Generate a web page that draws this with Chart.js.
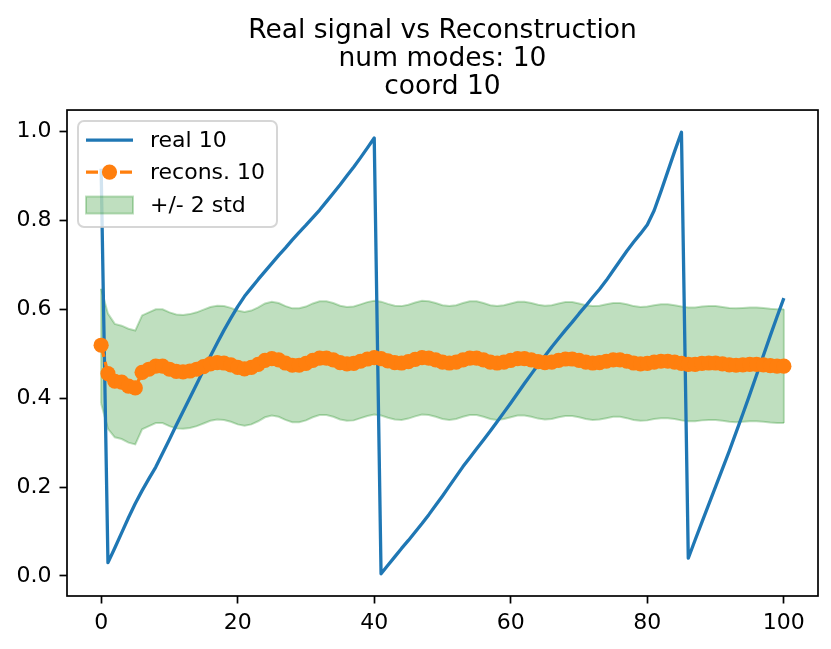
<!DOCTYPE html>
<html>
<head>
<meta charset="utf-8">
<title>Real signal vs Reconstruction</title>
<script src="https://cdn.jsdelivr.net/npm/chart.js@4.4.1/dist/chart.umd.min.js"></script>
<style>
  html, body { margin: 0; padding: 0; background: #fff; }
  #wrap { width: 831px; height: 649px; position: relative; }
</style>
</head>
<body>
<div id="wrap"><canvas id="chart"></canvas></div>
<script>
// values, one per time step 0..100
const real = [
  0.916, 0.030, 0.063, 0.097, 0.131, 0.163, 0.192, 0.219, 0.245, 0.276,
  0.307, 0.339, 0.370, 0.401, 0.432, 0.463, 0.494, 0.524, 0.553, 0.580,
  0.606, 0.629, 0.648, 0.667, 0.685, 0.703, 0.721, 0.738, 0.756, 0.773,
  0.789, 0.806, 0.823, 0.842, 0.861, 0.880, 0.900, 0.920, 0.941, 0.963,
  0.985, 0.005, 0.024, 0.043, 0.062, 0.080, 0.099, 0.118, 0.138, 0.159,
  0.180, 0.202, 0.224, 0.246, 0.266, 0.286, 0.306, 0.326, 0.347, 0.368,
  0.389, 0.411, 0.433, 0.454, 0.475, 0.495, 0.515, 0.534, 0.553, 0.571,
  0.590, 0.608, 0.627, 0.645, 0.665, 0.687, 0.709, 0.731, 0.751, 0.770,
  0.790, 0.822, 0.865, 0.910, 0.955, 0.998, 0.040, 0.081, 0.121, 0.161,
  0.201, 0.241, 0.281, 0.323, 0.365, 0.408, 0.452, 0.496, 0.540, 0.583,
  0.625
];

const recons = [
  0.519, 0.455, 0.438, 0.436, 0.427, 0.423, 0.458, 0.465, 0.472, 0.472,
  0.465, 0.460, 0.459, 0.461, 0.465, 0.471, 0.477, 0.480, 0.479, 0.475,
  0.469, 0.466, 0.469, 0.476, 0.485, 0.489, 0.486, 0.479, 0.474, 0.474,
  0.478, 0.485, 0.490, 0.490, 0.486, 0.480, 0.477, 0.478, 0.483, 0.488,
  0.491, 0.489, 0.484, 0.480, 0.479, 0.482, 0.487, 0.491, 0.490, 0.486,
  0.481, 0.479, 0.481, 0.486, 0.490, 0.490, 0.486, 0.481, 0.479, 0.481,
  0.485, 0.489, 0.489, 0.486, 0.482, 0.480, 0.481, 0.485, 0.488, 0.488,
  0.485, 0.481, 0.479, 0.480, 0.483, 0.486, 0.486, 0.483, 0.479, 0.477,
  0.478, 0.481, 0.483, 0.483, 0.481, 0.478, 0.476, 0.476, 0.478, 0.479,
  0.479, 0.477, 0.475, 0.474, 0.475, 0.476, 0.476, 0.475, 0.473, 0.472,
  0.472
];

const upper = [
  0.646, 0.590, 0.567, 0.563, 0.556, 0.552, 0.586, 0.593, 0.600, 0.600,
  0.593, 0.588, 0.587, 0.589, 0.593, 0.599, 0.605, 0.608, 0.607, 0.603,
  0.597, 0.594, 0.597, 0.604, 0.613, 0.617, 0.614, 0.607, 0.602, 0.602,
  0.606, 0.613, 0.618, 0.618, 0.614, 0.608, 0.605, 0.606, 0.611, 0.616,
  0.619, 0.617, 0.612, 0.608, 0.607, 0.610, 0.615, 0.619, 0.618, 0.614,
  0.609, 0.607, 0.609, 0.614, 0.618, 0.618, 0.614, 0.609, 0.607, 0.609,
  0.613, 0.617, 0.617, 0.614, 0.610, 0.608, 0.609, 0.613, 0.616, 0.616,
  0.613, 0.609, 0.607, 0.608, 0.611, 0.614, 0.614, 0.611, 0.607, 0.605,
  0.606, 0.609, 0.611, 0.611, 0.609, 0.606, 0.604, 0.604, 0.606, 0.607,
  0.607, 0.605, 0.603, 0.602, 0.603, 0.604, 0.604, 0.603, 0.601, 0.600,
  0.600
];

const lower = [
  0.388, 0.331, 0.312, 0.308, 0.300, 0.296, 0.330, 0.337, 0.344, 0.344,
  0.337, 0.332, 0.331, 0.333, 0.337, 0.343, 0.349, 0.352, 0.351, 0.347,
  0.341, 0.338, 0.341, 0.348, 0.357, 0.361, 0.358, 0.351, 0.346, 0.346,
  0.350, 0.357, 0.362, 0.362, 0.358, 0.352, 0.349, 0.350, 0.355, 0.360,
  0.363, 0.361, 0.356, 0.352, 0.351, 0.354, 0.359, 0.363, 0.362, 0.358,
  0.353, 0.351, 0.353, 0.358, 0.362, 0.362, 0.358, 0.353, 0.351, 0.353,
  0.357, 0.361, 0.361, 0.358, 0.354, 0.352, 0.353, 0.357, 0.360, 0.360,
  0.357, 0.353, 0.351, 0.352, 0.355, 0.358, 0.358, 0.355, 0.351, 0.349,
  0.350, 0.353, 0.355, 0.355, 0.353, 0.350, 0.348, 0.348, 0.350, 0.351,
  0.351, 0.349, 0.347, 0.346, 0.347, 0.348, 0.348, 0.347, 0.345, 0.344,
  0.344
];

const titleLines = ['Real signal vs Reconstruction', 'num modes: 10', 'coord 10'];
const seriesNames = ['real 10', 'recons. 10', '+/- 2 std'];
const xTicks = [0, 20, 40, 60, 80, 100];
const xTickLabels = ['0', '20', '40', '60', '80', '100'];
const yTicks = [0, 0.2, 0.4, 0.6, 0.8, 1.0];
const yTickLabels = ['0.0', '0.2', '0.4', '0.6', '0.8', '1.0'];

// time step index for each sample
const steps = real.map((_, i) => i);

const FONT = '"DejaVu Sans", "Liberation Sans", sans-serif';
const BLUE = '#1f77b4';
const ORANGE = '#ff7f0e';
const GREEN_A = 'rgba(0, 128, 0, 0.25)';

// frame on all four sides + matplotlib style legend in the upper left
const frameAndLegend = {
  id: 'frameAndLegend',
  afterDatasetsDraw(chart) {
    const { ctx, chartArea: a } = chart;
    ctx.save();
    ctx.strokeStyle = '#000';
    ctx.lineWidth = 1.7;
    ctx.strokeRect(a.left, a.top, a.right - a.left, a.bottom - a.top);

    const x0 = a.left + 11, y0 = a.top + 11, w = 199, h = 106;
    ctx.beginPath();
    ctx.roundRect(x0, y0, w, h, 6);
    ctx.fillStyle = 'rgba(255,255,255,0.8)';
    ctx.fill();
    ctx.strokeStyle = 'rgba(204,204,204,0.8)';
    ctx.lineWidth = 2;
    ctx.stroke();

    const hx1 = x0 + 8, hx2 = x0 + 55, tx = x0 + 72;
    const rows = [y0 + 19, y0 + 51, y0 + 84];

    // real
    ctx.beginPath();
    ctx.moveTo(hx1, rows[0]); ctx.lineTo(hx2, rows[0]);
    ctx.strokeStyle = BLUE; ctx.lineWidth = 3.3; ctx.lineCap = 'butt';
    ctx.stroke();

    // recons
    ctx.beginPath();
    ctx.setLineDash([12, 5]);
    ctx.moveTo(hx1, rows[1]); ctx.lineTo(hx2, rows[1]);
    ctx.strokeStyle = ORANGE;
    ctx.stroke();
    ctx.setLineDash([]);
    ctx.beginPath();
    ctx.arc((hx1 + hx2) / 2, rows[1], 7.6, 0, Math.PI * 2);
    ctx.fillStyle = ORANGE;
    ctx.fill();

    // band
    ctx.fillStyle = GREEN_A;
    ctx.fillRect(hx1, rows[2] - 8.5, hx2 - hx1, 17);
    ctx.strokeStyle = GREEN_A; ctx.lineWidth = 2;
    ctx.strokeRect(hx1, rows[2] - 8.5, hx2 - hx1, 17);

    ctx.fillStyle = '#000';
    ctx.font = '22px ' + FONT;
    ctx.textBaseline = 'middle';
    ctx.textAlign = 'left';
    seriesNames.forEach((name, i) => ctx.fillText(name, tx, rows[i] + 1));
    ctx.restore();
  }
};

const last = steps.length - 1;

new Chart(document.getElementById('chart'), {
  type: 'line',
  data: {
    labels: steps,
    datasets: [
      {
        label: seriesNames[0],
        data: real,
        borderColor: BLUE,
        borderWidth: 3.3,
        borderJoinStyle: 'round',
        pointRadius: 0,
        tension: 0,
        fill: false,
        order: 2
      },
      {
        label: seriesNames[1],
        data: recons,
        borderColor: ORANGE,
        borderWidth: 3.3,
        borderDash: [12, 5],
        pointRadius: 7.6,
        pointBorderWidth: 0,
        pointBackgroundColor: ORANGE,
        tension: 0,
        fill: false,
        order: 1
      },
      {
        label: seriesNames[2],
        data: upper,
        borderColor: GREEN_A,
        borderWidth: 2,
        backgroundColor: GREEN_A,
        pointRadius: 0,
        tension: 0,
        fill: '+1',
        order: 3
      },
      {
        label: 'lower',
        data: lower,
        borderColor: GREEN_A,
        borderWidth: 2,
        pointRadius: 0,
        tension: 0,
        fill: false,
        order: 3
      },
      {
        label: 'band start',
        data: [{ x: steps[0], y: lower[0] }, { x: steps[0], y: upper[0] }],
        borderColor: GREEN_A, borderWidth: 2, pointRadius: 0, fill: false, order: 3
      },
      {
        label: 'band end',
        data: [{ x: steps[last], y: lower[last] }, { x: steps[last], y: upper[last] }],
        borderColor: GREEN_A, borderWidth: 2, pointRadius: 0, fill: false, order: 3
      }
    ]
  },
  options: {
    responsive: true,
    maintainAspectRatio: false,
    animation: false,
    layout: { padding: { left: 0, right: 13, top: 0, bottom: 0 } },
    plugins: {
      legend: { display: false },
      tooltip: { enabled: false },
      title: {
        display: true,
        fullSize: false,
        text: titleLines,
        color: '#000',
        font: { family: FONT, size: 26.5, weight: 'normal', lineHeight: 1.057 },
        padding: { top: 17, bottom: 9 }
      }
    },
    scales: {
      x: {
        type: 'linear',
        min: -5,
        max: 105,
        afterBuildTicks: s => { s.ticks = xTicks.map(v => ({ value: v })); },
        afterFit: s => { s.height = 53; },
        grid: { drawOnChartArea: false, drawTicks: true, tickLength: 7.5, tickWidth: 1.7, tickColor: '#000' },
        border: { display: false },
        ticks: {
          color: '#000',
          padding: 7,
          maxRotation: 0,
          font: { family: FONT, size: 22 },
          callback: (v, i) => xTickLabels[i]
        }
      },
      y: {
        min: -0.045,
        max: 1.048,
        afterBuildTicks: s => { s.ticks = yTicks.map(v => ({ value: v })); },
        afterFit: s => { s.width = 67; },
        grid: { drawOnChartArea: false, drawTicks: true, tickLength: 7.5, tickWidth: 1.7, tickColor: '#000' },
        border: { display: false },
        ticks: {
          color: '#000',
          padding: 8,
          font: { family: FONT, size: 22 },
          callback: (v, i) => yTickLabels[i]
        }
      }
    }
  },
  plugins: [frameAndLegend]
});
</script>
</body>
</html>
